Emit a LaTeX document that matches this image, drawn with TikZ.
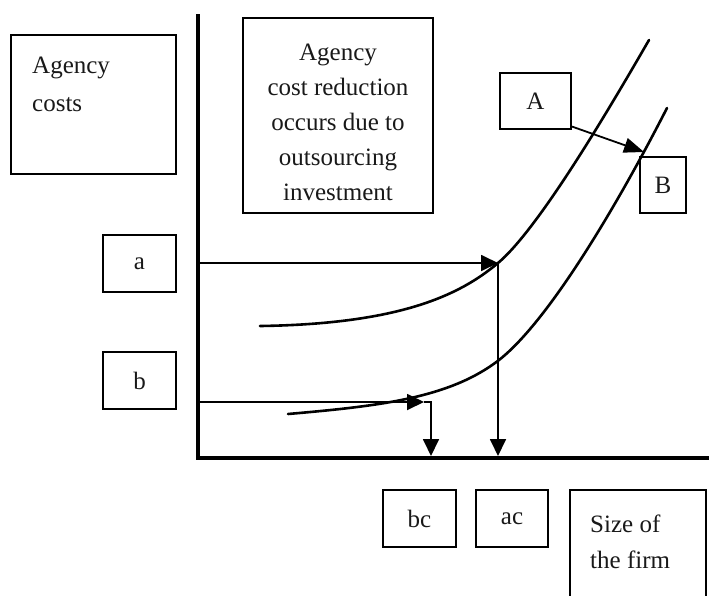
\documentclass[tikz,border=0pt]{standalone}
\usepackage{fontspec}
\setmainfont{Liberation Serif}
\usetikzlibrary{arrows.meta}
\begin{document}
\begin{tikzpicture}[x=1pt,y=-1pt,
  box/.style={draw, line width=2pt, inner sep=0pt},
  lbl/.style={font=\fontsize{25}{36}\selectfont, inner sep=0pt, text=black!90},
  curve/.style={line width=2.6pt, line cap=round},
  axis/.style={line width=4.5pt},
  link/.style={line width=1.8pt, -{Triangle[length=17pt,width=16pt]}},
]
\useasboundingbox (0,0) rectangle (709,595);
\clip (0,0) rectangle (709,595);

% axes
\coordinate (ytop) at (198,14);
\coordinate (O) at (198,458);
\coordinate (xend) at (712,458);
\draw[axis] (ytop) -- (O) -- (xend);

% label boxes
\node[box, minimum width=165pt, minimum height=139pt] (costsbox) at (93.5,104.5) {};
\node[lbl, anchor=north west, align=left, font=\fontsize{25}{38}\selectfont] (coststext) at (32,56.5) {Agency\\costs};

\node[box, minimum width=190pt, minimum height=195pt] (notebox) at (338,115.5) {};
\node[lbl, anchor=north, align=center, font=\fontsize{25}{35}\selectfont] (notetext) at (338,43.5)
  {Agency\\cost reduction\\occurs due to\\outsourcing\\investment};

\node[box, lbl, minimum width=71pt, minimum height=56pt] (A) at (535.5,101) {A};
\node[box, lbl, minimum width=46pt, minimum height=56pt] (B) at (663,185) {B};
\node[box, lbl, minimum width=73pt, minimum height=57pt] (a) at (139.5,263.5) {a};
\node[box, lbl, minimum width=73pt, minimum height=57pt] (b) at (139.5,380.5) {b};
\node[box, lbl, minimum width=73pt, minimum height=57pt] (bc) at (419.5,518.5) {bc};
\node[box, lbl, minimum width=72pt, minimum height=57pt] (ac) at (512,518.5) {ac};
\node[box, minimum width=136pt, minimum height=115pt] (sizebox) at (638,547.5) {};
\node[lbl, anchor=north west, align=left] (sizetext) at (590,515) {Size of\\the firm};

% cost curves: A before, B after the outsourcing investment
\draw[curve] (260,326) .. controls (400,324) and (460,295) .. (498,263)
                       .. controls (536,231) and (600,125) .. (649,40);
\draw[curve] (288,414) .. controls (380,406) and (450,398) .. (499,360)
                       .. controls (550,320) and (620,200) .. (667,108);

% reading arrows
\coordinate (ya) at (198,263);
\coordinate (pa) at (498,263);
\coordinate (xa) at (498,456);
\draw[link] (ya) -- (pa);
\draw[link] (pa) -- (xa);

\coordinate (yb) at (198,402);
\coordinate (pb) at (424,402);
\coordinate (kb) at (431,402);
\coordinate (xb) at (431,456);
\draw[link] (yb) -- (pb);
\draw[link] (pb) -- (kb) -- (xb);

% shift from curve A to curve B
\coordinate (onB) at (644,152);
\draw[line width=1.8pt, -{Triangle[length=20pt,width=15pt]}] (A.-35) -- (onB);
\end{tikzpicture}
\end{document}
